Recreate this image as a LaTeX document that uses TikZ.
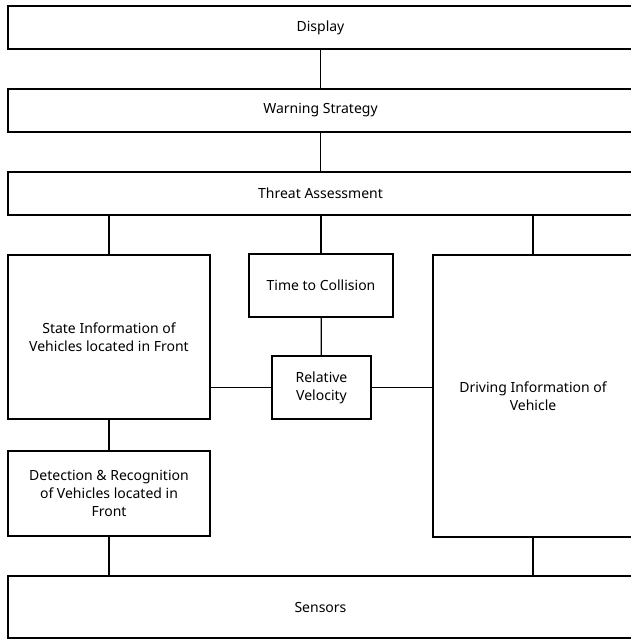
\documentclass[tikz,border=0pt]{standalone}
\usepackage{fontspec}
\setmainfont{Noto Sans}
\begin{document}
\begin{tikzpicture}[x=1pt,y=-1pt,
  blk/.style={draw=black,line width=1.6pt,rectangle,align=center,inner sep=0pt,
    font=\fontsize{14}{18}\selectfont},
  link/.style={draw=black,line width=1.3pt}]
\useasboundingbox[fill=white] (0,0) rectangle (630,639);
\node[blk,minimum width=625pt,minimum height=43pt] (disp) at (320.5,27.5) {Display};
\node[blk,minimum width=625pt,minimum height=43pt] (warn) at (320.5,110.5) {Warning Strategy};
\node[blk,minimum width=625pt,minimum height=43pt] (threat) at (320.5,193.5) {Threat Assessment};
\node[blk,minimum width=202pt,minimum height=164pt] (state) at (109,337) {State Information of\\Vehicles located in Front};
\node[blk,minimum width=144pt,minimum height=63pt] (ttc) at (321,285.5) {Time to Collision};
\node[blk,minimum width=99pt,minimum height=63pt] (relv) at (321.5,387.5) {Relative\\Velocity};
\node[blk,minimum width=200pt,minimum height=282pt] (drive) at (533,396) {Driving Information of\\Vehicle};
\node[blk,minimum width=202pt,minimum height=85pt] (detect) at (109,493.5) {Detection \& Recognition\\of Vehicles located in\\Front};
\node[blk,minimum width=625pt,minimum height=62pt] (sens) at (320.5,607) {Sensors};
\draw[link] (disp) -- (warn);
\draw[link] (warn) -- (threat);
\draw[link] (state.north) -- (state.north |- threat.south);
\draw[link] (ttc.north) -- (ttc.north |- threat.south);
\draw[link] (drive.north) -- (drive.north |- threat.south);
\draw[link] (ttc) -- (relv);
\draw[link] (relv.west) -- (relv.west -| state.east);
\draw[link] (relv.east) -- (relv.east -| drive.west);
\draw[link] (state) -- (detect);
\draw[link] (detect.south) -- (detect.south |- sens.north);
\draw[link] (drive.south) -- (drive.south |- sens.north);
\end{tikzpicture}
\end{document}
